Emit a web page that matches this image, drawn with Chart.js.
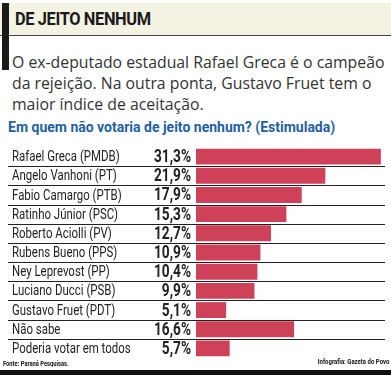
<!DOCTYPE html>
<html>
<head>
<meta charset="utf-8">
<script src="https://cdn.jsdelivr.net/npm/chart.js@4"></script>
<style>
  html, body { margin: 0; padding: 0; background: #fff; }
  body { width: 391px; height: 375px; position: relative; overflow: hidden; }
  .head { position: absolute; left: 0; top: 3px; width: 391px; height: 32px; background: #f3f2e3; border-bottom: 1px solid #444; }
  .mark { position: absolute; left: 2px; top: 3px; width: 7px; height: 67px; background: #1a1a1a; }
  .title { position: absolute; left: 15px; top: 8px; font: bold 18px Roboto, sans-serif; color: #1a1a1a; letter-spacing: -0.4px; transform: scaleX(0.91); transform-origin: left top; white-space: nowrap; }
  .desc { position: absolute; left: 12px; top: 52px; font: 15.8px 'Open Sans', sans-serif; line-height: 21px; color: #333; white-space: nowrap; }
  .sub { position: absolute; left: 8px; top: 119px; font: bold 14px Roboto, sans-serif; color: #1f5fa6; white-space: nowrap; }
  .src { position: absolute; left: 3px; top: 359px; font: bold 8px Roboto, sans-serif; color: #111; transform: scaleX(0.72); transform-origin: left top; white-space: nowrap; }
  .info { position: absolute; right: 2px; top: 357px; font: bold 8px Roboto, sans-serif; color: #111; transform: scaleX(0.75); transform-origin: right top; white-space: nowrap; }
  .foot { position: absolute; left: 0; top: 370px; width: 391px; height: 5px; background: #111; }
  #wrap { position: absolute; left: 0; top: 140px; width: 391px; height: 225px; }
</style>
</head>
<body>
<div class="head"></div>
<div class="mark"></div>
<div class="title">DE JEITO NENHUM</div>
<div class="desc">O ex-deputado estadual Rafael Greca é o campeão<br>da rejeição. Na outra ponta, Gustavo Fruet tem o<br>maior índice de aceitação.</div>
<div class="sub">Em quem não votaria de jeito nenhum? (Estimulada)</div>
<div id="wrap"><canvas id="rejeicaoChart"></canvas></div>
<div class="src">Fonte: Paraná Pesquisas.</div>
<div class="info">Infografia: Gazeta do Povo</div>
<div class="foot"></div>
<script>
const candidatos = ["Rafael Greca (PMDB)", "Angelo Vanhoni (PT)", "Fabio Camargo (PTB)", "Ratinho Júnior (PSC)",
    "Roberto Aciolli (PV)", "Rubens Bueno (PPS)", "Ney Leprevost (PP)", "Luciano Ducci (PSB)",
    "Gustavo Fruet (PDT)", "Não sabe", "Poderia votar em todos"];
const rejeicao = [31.3, 21.9, 17.9, 15.3, 12.7, 10.9, 10.4, 9.9, 5.1, 16.6, 5.7];
const valorTexto = ["31,3%", "21,9%", "17,9%", "15,3%", "12,7%", "10,9%", "10,4%", "9,9%", "5,1%", "16,6%", "5,7%"];

// labels, values and row separators drawn from the y scale
const rowText = {
    id: "rowText",
    afterDatasetsDraw(chart) {
        const c = chart.ctx;
        const y = chart.scales.y;
        c.save();
        c.textBaseline = "middle";
        for (let i = 0; i < candidatos.length; i++) {
            const py = y.getPixelForValue(i);
            c.fillStyle = "#222";

            c.save();
            c.translate(12, py + 1);
            c.scale(0.79, 1);
            c.font = "14.5px Roboto, sans-serif";
            c.textAlign = "left";
            c.fillText(candidatos[i], 0, 0);
            c.restore();

            c.save();
            c.translate(191, py + 1);
            c.scale(0.76, 1);
            c.font = "bold 18px Roboto, sans-serif";
            c.textAlign = "right";
            c.fillText(valorTexto[i], 0, 0);
            c.restore();

            if (i < candidatos.length - 1) {
                const ly = Math.round((py + y.getPixelForValue(i + 1)) / 2) + 0.5;
                c.strokeStyle = "#222";
                c.lineWidth = 1;
                c.beginPath();
                c.moveTo(8, ly);
                c.lineTo(385, ly);
                c.stroke();
            }
        }
        c.restore();
    }
};

new Chart(document.getElementById("rejeicaoChart"), {
    type: "bar",
    data: {
        labels: candidatos,
        datasets: [{
            data: rejeicao,
            backgroundColor: "#cf4158",
            borderWidth: 0,
            barPercentage: 0.83,
            categoryPercentage: 1
        }]
    },
    options: {
        indexAxis: "y",
        responsive: true,
        maintainAspectRatio: false,
        animation: false,
        layout: { padding: { left: 196, right: 6, top: 7, bottom: 7 } },
        scales: {
            x: { display: false, min: 0, max: 32 },
            y: { display: false }
        },
        plugins: { legend: { display: false }, tooltip: { enabled: false } }
    },
    plugins: [rowText]
});
</script>
</body>
</html>
